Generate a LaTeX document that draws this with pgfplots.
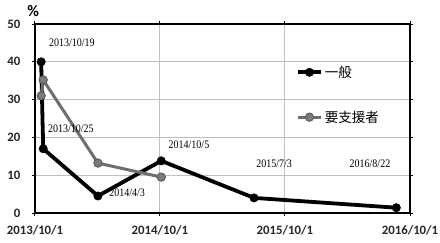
\documentclass[border=0pt]{standalone}
\usepackage{fontspec}
\usepackage{pgfplots}
\pgfplotsset{compat=1.18}
\newfontfamily\tickfont{Carlito}
\newfontfamily\annfont[FakeStretch=0.87]{Liberation Serif}
\newfontfamily\cjk{Noto Sans CJK JP}
\definecolor{gline}{HTML}{6E6E6E}
\definecolor{gmark}{HTML}{7A7A7A}
\definecolor{gedge}{HTML}{555555}
\definecolor{grid}{HTML}{A0A0A0}
\begin{document}
\begin{tikzpicture}
\useasboundingbox (-35pt,-29pt) rectangle (405pt,213pt);
\begin{axis}[
  scale only axis,
  width=375pt, height=189pt,
  xmin=0, xmax=1096, ymin=0, ymax=50,
  xtick={0,365,730,1096},
  xticklabels={2013/10/1,2014/10/1,2015/10/1,2016/10/1},
  ytick={0,10,20,30,40,50},
  /pgf/number format/assume math mode=true,
  tick label style={font=\tickfont\bfseries\fontsize{12.8}{13}\selectfont, text=black!85},
  xticklabel style={yshift=-6pt},
  yticklabel style={xshift=-8pt},
  tick align=outside,
  major tick length=3pt,
  tick style={black, line width=1pt},
  ymajorgrids,
  grid style={grid, line width=0.9pt},
  axis line style={black, line width=1.5pt},
  clip=false,
  legend style={draw=none, fill=none, at={(0.696,0.79)}, anchor=north west,
    inner sep=0pt, row sep=28pt, font=\cjk\fontsize{13.5}{14}\selectfont,
    cells={anchor=west}},
  legend image code/.code={\draw[mark repeat=2,mark phase=2] plot coordinates {(0cm,0cm) (0.4cm,0cm) (0.8cm,0cm)};},
]
\addplot[black, line width=3.8pt, mark=*, mark size=4.2pt, mark options={fill=black, draw=black, line width=0.5pt}]
  coordinates {(18,40) (24,17) (184,4.5) (369,13.8) (640,4.0) (1056,1.4)};
\addlegendentry{一般}
\addplot[gline, line width=3pt, mark=*, mark size=4.2pt, mark options={fill=gmark, draw=gedge, line width=0.8pt}]
  coordinates {(18,31) (24,35.2) (184,13.2) (369,9.5)};
\addlegendentry{要支援者}
\draw[black, line width=2.2pt] (axis cs:0,0) -- (axis cs:0,50);
\begin{scope}[every node/.style={font=\annfont\fontsize{11.5}{12}\selectfont}]
\node at (axis cs:108,45) {2013/10/19};
\node at (axis cs:105,22.2) {2013/10/25};
\node at (axis cs:269,5.3) {2014/4/3};
\node at (axis cs:450,18) {2014/10/5};
\node at (axis cs:699,13) {2015/7/3};
\node at (axis cs:979,13) {2016/8/22};
\end{scope}
\node[font=\tickfont\bfseries\fontsize{16}{16}\selectfont] at (axis description cs:-0.005,1.07) {\%};
\end{axis}
\end{tikzpicture}
\end{document}
